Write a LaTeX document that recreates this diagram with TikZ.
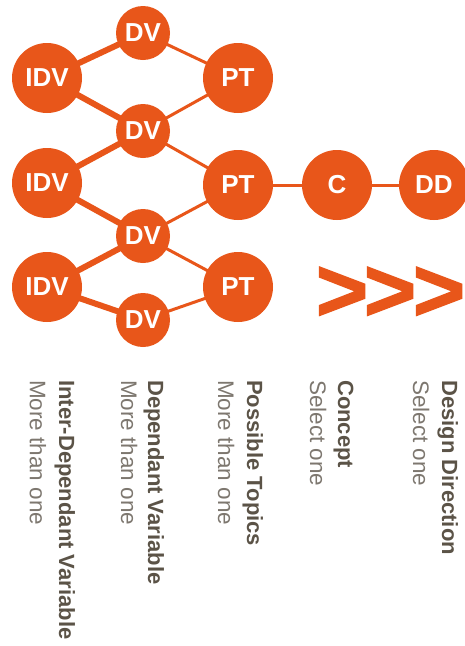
\documentclass[tikz,border=0pt]{standalone}
\usepackage{fontspec}
\setmainfont{Liberation Sans}
\newfontfamily\chevfont[FakeBold=1.5]{Liberation Sans Bold}
\usetikzlibrary{backgrounds}
\definecolor{org}{HTML}{E8561A}
\definecolor{ttl}{HTML}{5B5347}
\definecolor{sub}{HTML}{7D776F}
\begin{document}
\begin{tikzpicture}[x=1pt,y=-1pt,
  big/.style={circle,fill=org,inner sep=0pt,minimum size=70pt,text=white,font=\fontsize{26}{26}\selectfont\bfseries},
  small/.style={circle,fill=org,inner sep=0pt,minimum size=54pt,text=white,font=\fontsize{26}{26}\selectfont\bfseries},
  thickline/.style={draw=org,line width=6pt},
  thinline/.style={draw=org,line width=3pt},
  ttlnode/.style={rotate=-90,anchor=base west,inner sep=0pt,text=ttl,font=\fontsize{22}{22}\selectfont\bfseries},
  subnode/.style={rotate=-90,anchor=base west,inner sep=0pt,text=sub,font=\fontsize{22.5}{22.5}\selectfont},
  chev/.style={inner sep=0pt,text=org,font=\fontsize{90}{90}\chevfont}]
\useasboundingbox (0,0) rectangle (465,646);
% circles
\node[big] (idv1) at (47,78) {IDV};
\node[big] (idv2) at (47,183) {IDV};
\node[big] (idv3) at (47,287) {IDV};
\node[small] (dv1) at (143,33) {DV};
\node[small] (dv2) at (143,131) {DV};
\node[small] (dv3) at (143,236) {DV};
\node[small] (dv4) at (143,320) {DV};
\node[big] (pt1) at (238,78) {PT};
\node[big] (pt2) at (238,185) {PT};
\node[big] (pt3) at (238,287) {PT};
\node[big] (c) at (337,185) {C};
\node[big] (dd) at (434,185) {DD};
% connectors
\begin{pgfonlayer}{background}
\draw[thickline] (idv1.center) -- (dv1.center);
\draw[thickline] (idv1.center) -- (dv2.center);
\draw[thickline] (idv2.center) -- (dv2.center);
\draw[thickline] (idv2.center) -- (dv3.center);
\draw[thickline] (idv3.center) -- (dv3.center);
\draw[thickline] (idv3.center) -- (dv4.center);
\draw[thinline] (dv1.center) -- (pt1.center);
\draw[thinline] (dv2.center) -- (pt1.center);
\draw[thinline] (dv2.center) -- (pt2.center);
\draw[thinline] (dv3.center) -- (pt2.center);
\draw[thinline] (dv3.center) -- (pt3.center);
\draw[thinline] (dv4.center) -- (pt3.center);
\draw[thinline] (pt2.center) -- (c.center);
\draw[thinline] (c.center) -- (dd.center);
\end{pgfonlayer}
% chevrons
\node[chev] (ch1) at (342,294) {>};
\node[chev] (ch2) at (390,294) {>};
\node[chev] (ch3) at (439,294) {>};
% labels
\node[ttlnode] (t1) at (59,380) {Inter-Dependant Variable};
\node[subnode] (s1) at (30,380) {More than one};
\node[ttlnode] (t2) at (148,380) {Dependant Variable};
\node[subnode] (s2) at (121,380) {More than one};
\node[ttlnode] (t3) at (247,380) {Possible Topics};
\node[subnode] (s3) at (218,380) {More than one};
\node[ttlnode] (t4) at (338,380) {Concept};
\node[subnode] (s4) at (310,380) {Select one};
\node[ttlnode] (t5) at (442,380) {Design Direction};
\node[subnode] (s5) at (413,380) {Select one};
\end{tikzpicture}
\end{document}
